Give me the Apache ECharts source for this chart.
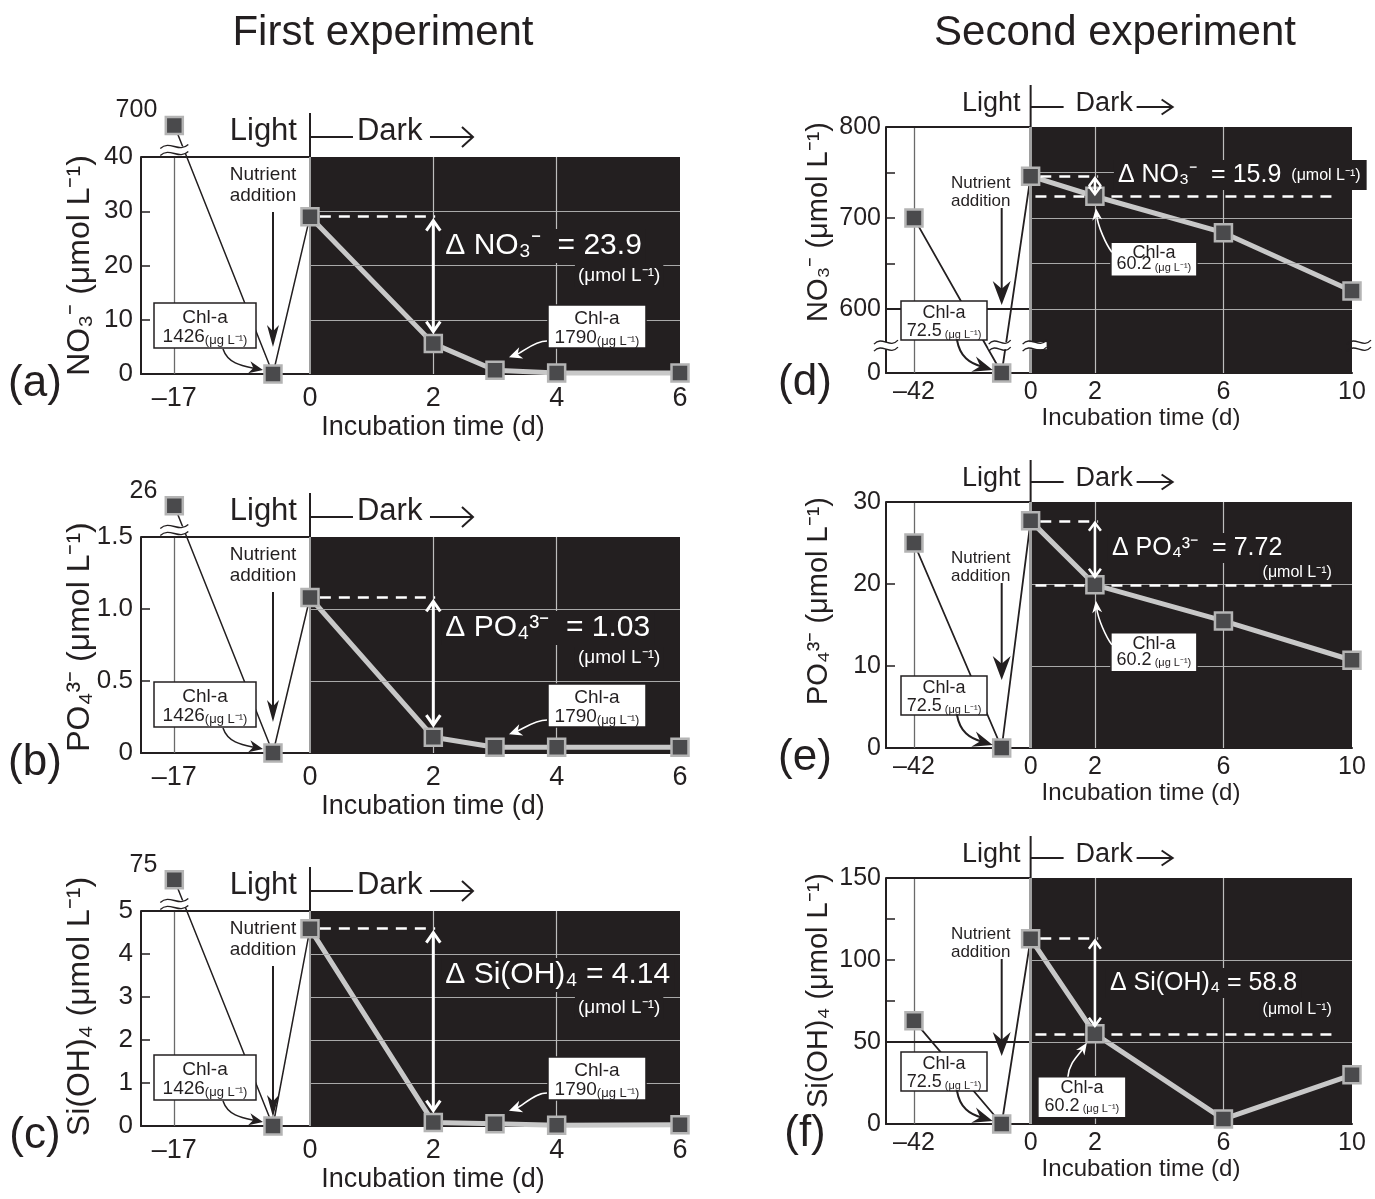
<!DOCTYPE html>
<html><head><meta charset="utf-8">
<script src="https://cdn.jsdelivr.net/npm/echarts@6/dist/echarts.min.js"></script>
<style>html,body{margin:0;padding:0;background:#fff}#c{width:1375px;height:1199px}</style>
</head><body><div id="c"></div>
<script>
// ---------------- data ----------------
const firstDays  = [-17, -0.6, 0, 2, 3, 4, 6];
const secondDays = [-42, -0.9, 0, 2, 6, 10];
const nitrateFirst   = [700, 0, 29.0, 5.6, 0.7, 0.2, 0.2];
const phosphateFirst = [26, 0, 1.08, 0.11, 0.04, 0.04, 0.04];
const silicateFirst  = [75, 0, 4.59, 0.08, 0.05, 0.02, 0.03];
const nitrateSecond   = [700, 0, 746, 724, 684, 620];
const phosphateSecond = [25.0, 0, 27.7, 19.9, 15.5, 10.7];
const silicateSecond  = [63, 0, 113, 55, 3, 30];
const firstXTicks  = [-17, 0, 2, 4, 6];
const secondXTicks = [-42, 0, 2, 6, 10];
const nitrateFirstTicks   = [0, 10, 20, 30, 40];
const phosphateFirstTicks = [0, 0.5, 1.0, 1.5];
const silicateFirstTicks  = [0, 1, 2, 3, 4, 5];
const nitrateSecondTicks   = [0, 600, 700, 800];
const phosphateSecondTicks = [0, 10, 20, 30];
const silicateSecondTicks  = [0, 50, 100, 150];
const deltaValues = ['23.9', '1.03', '4.14', '15.9', '7.72', '58.8'];
const chlLight = ['1426', '1426', '1426', '72.5', '72.5', '72.5'];
const chlDark  = ['1790', '1790', '1790', '60.2', '60.2', '60.2'];
const panelLetters = ['(a)', '(b)', '(c)', '(d)', '(e)', '(f)'];
const yNames = ['NO₃⁻ (μmol L⁻¹)', 'PO₄³⁻ (μmol L⁻¹)', 'Si(OH)₄ (μmol L⁻¹)',
                'NO₃⁻ (μmol L⁻¹)', 'PO₄³⁻ (μmol L⁻¹)', 'Si(OH)₄ (μmol L⁻¹)'];
const deltaNames = ['Δ NO₃⁻  = ', 'Δ PO₄³⁻  = ', 'Δ Si(OH)₄ = ', 'Δ NO₃⁻  = ', 'Δ PO₄³⁻  = ', 'Δ Si(OH)₄ = '];

const panelData = [
  {days: firstDays, vals: nitrateFirst, yTicks: nitrateFirstTicks},
  {days: firstDays, vals: phosphateFirst, yTicks: phosphateFirstTicks},
  {days: firstDays, vals: silicateFirst, yTicks: silicateFirstTicks},
  {days: secondDays, vals: nitrateSecond, yTicks: nitrateSecondTicks},
  {days: secondDays, vals: phosphateSecond, yTicks: phosphateSecondTicks},
  {days: secondDays, vals: silicateSecond, yTicks: silicateSecondTicks}
];

// ---------------- layout / style ----------------
const FF = '"Liberation Sans", Arial, Helvetica, sans-serif';
const INK = '#231f20', DARK = '#231f20';
const L = [
  {exp:0, grid:{left:141, top:157, width:539, height:217}, yMin:0, yMax:40, minor:[10,20,30], hGrid:[10,20,30], vGrid:[2,4], arrowEnd:27, deltaDy:89, unitDy:30, nameShift:0},
  {exp:0, grid:{left:141, top:537, width:539, height:216}, yMin:0, yMax:1.5, minor:[0.5,1], hGrid:[0.5,1], vGrid:[2,4], arrowEnd:31, deltaDy:91, unitDy:30, nameShift:-8, fmt:v=>v===0?'0':v.toFixed(1)},
  {exp:0, grid:{left:141, top:911, width:539, height:215}, yMin:0, yMax:5, minor:[1,2,3,4], hGrid:[1,2,3,4], vGrid:[2,4], arrowEnd:9, deltaDy:64, unitDy:33, nameShift:-12},
  {exp:1, grid:{left:886, top:127, width:466, height:246}, yMin:530, yMax:800, breakBase:530, minor:[650,700,750], hGrid:[600,650,700,750], vGrid:[2,6], blackLine:600, deltaDx:23, deltaDy:48, inlineUnit:true,
     box:{dx:16, dy:46, w:86, h:34}, darr:{tail:[1,10], tip:[1,12], c1:[-6,-8], c2:[2,18]}},
  {exp:1, grid:{left:886, top:502, width:466, height:246}, yMin:0, yMax:30, minor:[10,20], hGrid:[10,20], vGrid:[2,6], deltaDx:17, deltaDy:46, unitDy:25,
     box:{dx:16, dy:48, w:86, h:39}, darr:{tail:[1,12], tip:[1,16], c1:[-6,-8], c2:[2,18]}},
  {exp:1, grid:{left:886, top:878, width:466, height:246}, yMin:0, yMax:150, minor:[75,100,125], hGrid:[50,100], vGrid:[2,6], blackLine:50, deltaDx:15, deltaDy:105, unitDy:27,
     box:{dx:-57, dy:43, w:88, h:41}, darr:{tail:[30,0], tip:[-8,9], c1:[1,-14], c2:[-8,12]}}
];

L.forEach((l, i) => {
  const e = l.exp;
  l.xMin = e === 0 ? -2.74 : -4.5;
  l.xMax = e === 0 ? 6 : 10;
  l.xb = e === 0 ? -2.2 : -3.63;           // broken-axis position of the first sampling day
  l.xd = v => v <= -10 ? l.xb : v;
  l.yd = v => (l.breakBase !== undefined && v < 300) ? l.breakBase + v
            : (e === 0 && v > l.yMax ? l.yMax * 1.145 : v);
  l.xTicks = e === 0 ? firstXTicks : secondXTicks;
});

const chart = echarts.init(document.getElementById('c'));
const grids = [], xAxes = [], yAxes = [], series = [];

L.forEach((l, i) => {
  const d = panelData[i], e = l.exp;
  grids.push(Object.assign({outerBoundsMode:'none', containLabel:false, show:false}, l.grid));
  xAxes.push({
    gridIndex:i, type:'value', min:l.xMin, max:l.xMax,
    axisLine:{show:true, onZero:false, lineStyle:{color:INK, width:2}},
    axisTick:{show:false}, splitLine:{show:false},
    axisLabel:{customValues:l.xTicks.map(l.xd), color:INK, fontFamily:FF, fontSize:e===0?27:25, margin:e===0?11:7,
      formatter:v=>{const t=l.xTicks.find(t=>Math.abs(l.xd(t)-v)<1e-6); return t===undefined?'':(t<0?'–'+(-t):String(t));}}
  });
  yAxes.push({
    gridIndex:i, type:'value', min:l.yMin, max:l.yMax,
    axisLine:{show:true, onZero:false, lineStyle:{color:INK, width:2}},
    axisTick:{show:true, inside:true, length:9, customValues:l.minor, lineStyle:{color:INK, width:1.5}},
    splitLine:{show:false},
    axisLabel:{customValues:d.yTicks.map(l.yd), color:INK, fontFamily:FF, fontSize:e===0?26:25, margin:e===0?8:5,
      formatter:v=>{const t=d.yTicks.find(t=>Math.abs(l.yd(t)-v)<1e-9); if(t===undefined) return ''; return l.fmt?l.fmt(t):String(t);}}
  });
  // dark incubation area
  series.push({type:'line', xAxisIndex:i, yAxisIndex:i, data:[], symbol:'none', silent:true, z:1,
    markArea:{silent:true, itemStyle:{color:DARK}, label:{show:false},
      data:[[{coord:[0, l.yMin]}, {coord:[l.xMax, l.yMax]}]]}});
  // grid lines, borders, dashed reference lines
  const ml = [];
  const gs = {color:'#a9a9a9', width:1.2, type:'solid'};
  l.hGrid.forEach(v => ml.push([{coord:[0, v], lineStyle:gs}, {coord:[l.xMax, v]}]));
  l.vGrid.forEach(v => ml.push([{coord:[v, l.yMin], lineStyle:{color:'#bdbdbd', width:1.2, type:'solid'}}, {coord:[v, l.yMax]}]));
  ml.push([{coord:[l.xb, l.yMin], lineStyle:{color:'#6a6a6a', width:1.3, type:'solid'}}, {coord:[l.xb, l.yMax]}]);
  ml.push([{coord:[l.xMin, l.yMax], lineStyle:{color:INK, width:2, type:'solid'}}, {coord:[0, l.yMax]}]);
  if (l.blackLine !== undefined) ml.push([{coord:[l.xMin, l.blackLine], lineStyle:{color:INK, width:2, type:'solid'}}, {coord:[0, l.blackLine]}]);
  ml.push([{coord:[0, l.yMin], lineStyle:{color:'#a0a0a0', width:e===0?2:3, type:'solid'}}, {coord:[0, l.yMax]}]);
  const up = l.yd(d.vals[2]), lo = l.yd(d.vals[3]);
  const dash = {color:'#ffffff', width:2.5, type:[11, 8]};
  if (e === 0) {
    ml.push([{coord:[0.16, up], lineStyle:dash}, {coord:[2.03, up]}]);
  } else {
    ml.push([{coord:[0.3, up], lineStyle:dash}, {coord:[2.1, up]}]);
    ml.push([{coord:[0.15, lo], lineStyle:dash}, {coord:[9.6, lo]}]);
  }
  series.push({type:'line', xAxisIndex:i, yAxisIndex:i, data:[], symbol:'none', silent:true, z:2,
    markLine:{silent:true, symbol:['none','none'], label:{show:false}, animation:false, data:ml}});
  const pts = d.days.map((t, k) => [l.xd(t), l.yd(d.vals[k])]);
  series.push({type:'line', xAxisIndex:i, yAxisIndex:i, data:pts.slice(0,3), symbol:'none', clip:false, z:3,
    lineStyle:{color:INK, width:e===0?1.5:1.8}});
  series.push({type:'line', xAxisIndex:i, yAxisIndex:i, data:pts.slice(2), symbol:'none', clip:false, z:4,
    lineStyle:{color:'#c8c8c8', width:5}});
  series.push({type:'scatter', xAxisIndex:i, yAxisIndex:i, data:pts, symbol:'rect', symbolSize:17, clip:false, z:5,
    itemStyle:{color:'#4a4a4c', borderColor:'#b4b4b4', borderWidth:2.5, opacity:1}});
});

chart.setOption({animation:false, grid:grids, xAxis:xAxes, yAxis:yAxes, series:series});

// ---------------- annotations ----------------
const G = [];
const mctx = document.createElement('canvas').getContext('2d');
function tw(t, s) { mctx.font = s + 'px ' + FF; return mctx.measureText(t).width; }
function text(t, x, y, size, o) {
  o = o || {};
  G.push({type:'text', x:x, y:y, rotation:o.rot||0, z:o.z||102, silent:true,
    style:{text:t, x:0, y:0, fill:o.fill||INK, font:size + 'px ' + FF, textAlign:o.align||'center', textVerticalAlign:o.va||'middle'}});
}
function seg(x1, y1, x2, y2, c, w, z) { G.push({type:'line', z:z||101, silent:true, shape:{x1, y1, x2, y2}, style:{stroke:c, lineWidth:w}}); }
function poly(pts, c, z) { G.push({type:'polygon', z:z||101, silent:true, shape:{points:pts}, style:{fill:c}}); }
function pline(pts, c, w, z) { G.push({type:'polyline', z:z||101, silent:true, shape:{points:pts}, style:{stroke:c, lineWidth:w, fill:null}}); }
function rect(x, y, w, h, fill, stroke, lw, z) { G.push({type:'rect', z:z||100, silent:true, shape:{x, y, width:w, height:h}, style:{fill:fill, stroke:stroke||null, lineWidth:lw||0}}); }
function bez(p0, c1, c2, p1, c, w) { G.push({type:'bezierCurve', z:101, silent:true, shape:{x1:p0[0], y1:p0[1], cpx1:c1[0], cpy1:c1[1], cpx2:c2[0], cpy2:c2[1], x2:p1[0], y2:p1[1]}, style:{stroke:c, lineWidth:w, fill:null}}); }
function head(tip, from, len, hw, c, notch) {
  const dx = tip[0]-from[0], dy = tip[1]-from[1], m = Math.hypot(dx, dy), ux = dx/m, uy = dy/m, px = -uy, py = ux;
  const bx = tip[0]-ux*len, by = tip[1]-uy*len, nx = tip[0]-ux*len*(notch||1), ny = tip[1]-uy*len*(notch||1);
  poly([tip, [bx+px*hw, by+py*hw], [nx, ny], [bx-px*hw, by-py*hw]], c, 102);
}
function curvedArrow(tail, c1, c2, tip, c, w, len, hw, notch) {
  const back = Math.hypot(tip[0]-c2[0], tip[1]-c2[1]);
  const k = Math.max(0, (back - len*0.6)/back);
  const end = [c2[0] + (tip[0]-c2[0])*k, c2[1] + (tip[1]-c2[1])*k];
  bez(tail, c1, c2, end, c, w);
  head(tip, c2, len, hw, c, notch);
}
function mixed(parts, cx, cy) { // parts: [text,size]; centered, bottoms aligned
  const tot = parts.reduce((s, p) => s + tw(p[0], p[1]), 0);
  let x = cx - tot/2;
  const base = cy + parts[0][1]/2;
  parts.forEach(p => { G.push({type:'text', x:x, y:base, z:103, silent:true,
    style:{text:p[0], x:0, y:0, fill:INK, font:p[1] + 'px ' + FF, textAlign:'left', textVerticalAlign:'bottom'}}); x += tw(p[0], p[1]); });
}
function brk(cx, cy, w, mask) {
  if (mask) rect(cx-w/2, cy-3.5, w, 7, '#ffffff', null, 0, 101);
  [-3.5, 3.5].forEach(o => bez([cx-w/2, cy+o+2], [cx-w/6, cy+o-7], [cx+w/6, cy+o+7], [cx+w/2, cy+o-2], INK, 1.3));
}

L.forEach((l, i) => {
  const d = panelData[i], e = l.exp;
  const P = (x, y) => chart.convertToPixel({gridIndex:i}, [x, y]);
  const top = l.grid.top, bottom = l.grid.top + l.grid.height, left = l.grid.left;
  const x0 = P(0, l.yMin)[0];
  const pts = d.days.map((t, k) => P(l.xd(t), l.yd(d.vals[k])));
  const pre = pts[1], p2 = pts[3];
  const upY = P(0, l.yd(d.vals[2]))[1];

  // Light | Dark header
  const hs = e === 0 ? 31 : 27;
  seg(x0, top - (e === 0 ? 44 : 42), x0, top, INK, 2);
  text('Light', x0 - (e === 0 ? 13 : 10), top - (e === 0 ? 25.5 : 23), hs, {align:'right'});
  seg(x0, top - 20, x0 + (e === 0 ? 43 : 33), top - 20, INK, 2);
  text('Dark', x0 + (e === 0 ? 47 : 45), top - (e === 0 ? 25.5 : 23), hs, {align:'left'});
  const a1 = x0 + (e === 0 ? 120 : 106), a2 = x0 + (e === 0 ? 163 : 142), ah = e === 0 ? 10 : 7.5;
  seg(a1, top - 20, a2, top - 20, INK, 2);
  pline([[a2 - 11, top - 20 - ah], [a2, top - 20], [a2 - 11, top - 20 + ah]], INK, 2);

  // axis names & panel letter
  if (e === 0) text(yNames[i], 80, top + l.grid.height/2 + l.nameShift, 32, {rot:Math.PI/2});
  else text(yNames[i], 819, top - 5, 29, {rot:Math.PI/2, align:'right'});
  text('Incubation time (d)', e === 0 ? 433 : 1141, bottom + (e === 0 ? 54 : 45), e === 0 ? 27 : 24);
  text(panelLetters[i], e === 0 ? 35 : 805, bottom + 10, 44);

  if (e === 0) {
    // overflow value and break mark
    text(String(d.vals[0]), pts[0][0] - 17, pts[0][1] - 15, 25, {align:'right'});
    brk(pts[0][0], top - 7, 28, true);
    // nutrient addition
    text('Nutrient', pre[0] - 10, top + 18, 19);
    text('addition', pre[0] - 10, top + 39, 19);
    const ae = bottom - l.arrowEnd;
    seg(pre[0], top + 55, pre[0], ae - 14, INK, 2);
    head([pre[0], ae], [pre[0], ae - 30], 22, 6, INK, 0.72);
    // light Chl-a box
    rect(left + 13, bottom - 71, 102, 45, '#ffffff', INK, 1.5);
    text('Chl-a', left + 64, bottom - 56, 19, {z:103});
    mixed([[chlLight[i], 19], ['(μg L⁻¹)', 13]], left + 64, bottom - 37);
    curvedArrow([left + 82, bottom - 25], [left + 87, bottom - 10], [pre[0] - 30, bottom - 8], [pre[0] - 10, pre[1] - 4], INK, 1.5, 14, 6, 0.7);
    // dark Chl-a box
    const p3 = pts[4];
    const bx = p3[0] + 53, by = bottom - 69;
    rect(bx, by, 98, 43, '#ffffff', INK, 1.5);
    text('Chl-a', bx + 49, by + 14, 19, {z:103});
    mixed([[chlDark[i], 19], ['(μg L⁻¹)', 13]], bx + 49, by + 33);
    curvedArrow([bx - 1, by + 36], [bx - 14, by + 36], [p3[0] + 28, p3[1] - 18], [p3[0] + 14, p3[1] - 13], '#ffffff', 1.6, 13, 6, 0.7);
    // delta
    const dl = p2[0] + 12, dy = top + l.deltaDy;
    const dt = deltaNames[i] + deltaValues[i];
    const dw = tw(dt, 30);
    rect(dl - 4, dy - 17, dw + 8, 34, DARK, null, 0, 99);
    text(dt, dl, dy, 30, {align:'left', fill:'#ffffff'});
    const ut = '(μmol L⁻¹)', uw = tw(ut, 19);
    rect(dl + 215 - uw - 3, dy + l.unitDy - 11, uw + 6, 22, DARK, null, 0, 99);
    text(ut, dl + 215, dy + l.unitDy, 19, {align:'right', fill:'#ffffff'});
    // double arrow
    const y1 = upY + 4, y2 = p2[1] - 12;
    seg(p2[0], y1, p2[0], y2, '#ffffff', 3);
    pline([[p2[0] - 7, y1 + 10], [p2[0], y1], [p2[0] + 7, y1 + 10]], '#ffffff', 3);
    pline([[p2[0] - 7, y2 - 10], [p2[0], y2], [p2[0] + 7, y2 - 10]], '#ffffff', 3);
  } else {
    // nutrient addition
    text('Nutrient', pre[0] - 21, top + 56, 17);
    text('addition', pre[0] - 21, top + 74, 17);
    const ae = bottom - 68;
    seg(pre[0], top + 81, pre[0], ae - 16, INK, 2);
    head([pre[0], ae], [pre[0], ae - 30], 24, 9, INK, 0.68);
    // light Chl-a box
    rect(left + 15, bottom - 72, 86, 39, '#ffffff', INK, 1.5);
    text('Chl-a', left + 58, bottom - 60, 18, {z:103});
    mixed([[chlLight[i], 18], [' (μg L⁻¹)', 11]], left + 58, bottom - 42);
    curvedArrow([left + 71, bottom - 33], [left + 74, bottom - 16], [pre[0] - 32, bottom - 10], [pre[0] - 9, pre[1] - 3], INK, 2, 20, 8, 0.65);
    // dark Chl-a box
    const b = l.box;
    const bx = p2[0] + b.dx, by = p2[1] + b.dy;
    rect(bx, by, b.w, b.h, '#ffffff', INK, 1.5);
    text('Chl-a', bx + b.w/2, by + 11, 18, {z:103});
    mixed([[chlDark[i], 18], [' (μg L⁻¹)', 11]], bx + b.w/2, by + b.h - 12);
    const a = l.darr;
    const tail = [bx + a.tail[0], by + a.tail[1]], tip = [p2[0] + a.tip[0], p2[1] + a.tip[1]];
    curvedArrow(tail, [tail[0] + a.c1[0], tail[1] + a.c1[1]], [tip[0] + a.c2[0], tip[1] + a.c2[1]], tip, '#ffffff', 1.6, 12, 5, 0.7);
    // delta
    const dl = p2[0] + l.deltaDx, dy = top + l.deltaDy;
    const dt = deltaNames[i] + deltaValues[i];
    const dw = tw(dt, 25);
    const ut = '(μmol L⁻¹)', uw = tw(ut, 16);
    if (l.inlineUnit) {
      rect(dl - 4, dy - 15, dw + uw + 20, 30, DARK, null, 0, 99);
      text(dt, dl, dy, 25, {align:'left', fill:'#ffffff'});
      text(ut, dl + dw + 10, dy + 1, 16, {align:'left', fill:'#ffffff'});
    } else {
      rect(dl - 4, dy - 15, dw + 8, 30, DARK, null, 0, 99);
      text(dt, dl, dy, 25, {align:'left', fill:'#ffffff'});
      rect(p2[0] + 237 - uw - 3, dy + l.unitDy - 10, uw + 6, 20, DARK, null, 0, 99);
      text(ut, p2[0] + 237, dy + l.unitDy, 16, {align:'right', fill:'#ffffff'});
    }
    // double arrow
    const y1 = upY + 2, y2 = Math.max(p2[1] - 8, y1 + 16);
    seg(p2[0], y1, p2[0], y2, '#ffffff', 2.5);
    pline([[p2[0] - 6, y1 + 8], [p2[0], y1], [p2[0] + 6, y1 + 8]], '#ffffff', 2.5);
    pline([[p2[0] - 6, y2 - 8], [p2[0], y2], [p2[0] + 6, y2 - 8]], '#ffffff', 2.5);
    // axis break marks (panel d)
    if (l.breakBase !== undefined) {
      const by2 = P(0, 560)[1];
      brk(left, by2, 24, true);
      brk(pre[0] - 2, by2, 22, true);
      brk(x0 + 4, by2, 24, true);
      brk(left + l.grid.width + 7, by2, 24, false);
    }
  }
});

text('First experiment', 383, 33, 42);
text('Second experiment', 1115, 33, 42);

chart.setOption({graphic:{elements:G}});
</script>
</body></html>
